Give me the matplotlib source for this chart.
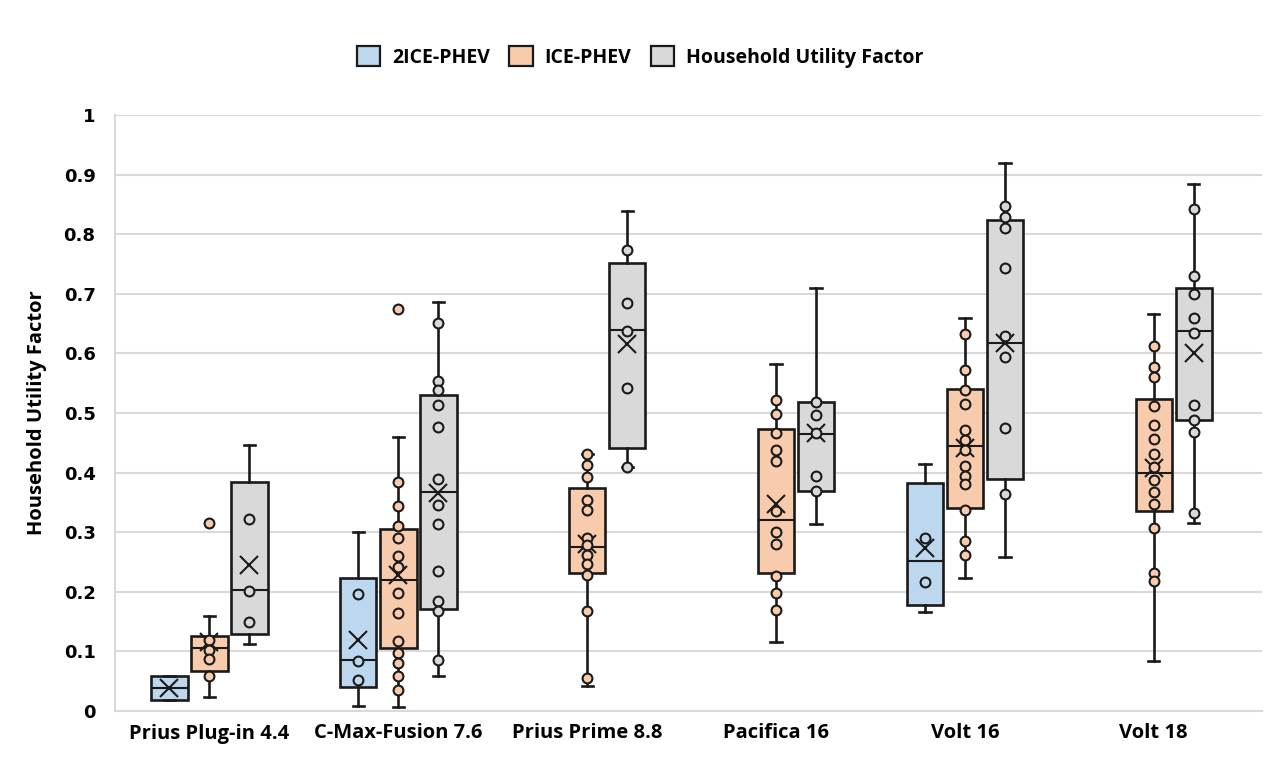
import matplotlib.pyplot as plt
from matplotlib.patches import Patch

# categories and series
categories = ["Prius Plug-in 4.4", "C-Max-Fusion 7.6", "Prius Prime 8.8",
              "Pacifica 16", "Volt 16", "Volt 18"]
series_names = ["2ICE-PHEV", "ICE-PHEV", "Household Utility Factor"]
series_colors = ["#BDD7EE", "#F8CBAD", "#D9D9D9"]

# box stats per category: (whisker low, q1, median, q3, whisker high, mean)
ice2_box = [
    (0.019, 0.019, 0.038, 0.058, 0.058, 0.038),
    (0.008, 0.041, 0.086, 0.223, 0.301, 0.119),
    None,
    None,
    (0.166, 0.178, 0.252, 0.383, 0.414, 0.273),
    None,
]
ice_box = [
    (0.024, 0.067, 0.106, 0.126, 0.160, 0.116),
    (0.007, 0.105, 0.220, 0.306, 0.459, 0.228),
    (0.042, 0.231, 0.276, 0.374, 0.432, 0.281),
    (0.116, 0.231, 0.320, 0.473, 0.582, 0.348),
    (0.223, 0.340, 0.445, 0.540, 0.659, 0.441),
    (0.084, 0.336, 0.399, 0.523, 0.666, 0.408),
]
huf_box = [
    (0.112, 0.130, 0.203, 0.384, 0.447, 0.245),
    (0.058, 0.171, 0.368, 0.531, 0.687, 0.365),
    (0.410, 0.442, 0.640, 0.751, 0.839, 0.616),
    (0.313, 0.369, 0.464, 0.518, 0.710, 0.467),
    (0.258, 0.390, 0.618, 0.824, 0.919, 0.618),
    (0.316, 0.488, 0.638, 0.710, 0.884, 0.601),
]

# outliers per category
ice2_out = [[], [], [], [], [], []]
ice_out = [[0.316], [0.674], [], [], [], []]
huf_out = [[], [], [], [], [], []]

# inner points per category
ice2_points = [
    [],
    [0.196, 0.084, 0.052],
    [],
    [],
    [0.290, 0.217],
    [],
]
ice_points = [
    [0.119, 0.102, 0.087, 0.059],
    [0.385, 0.344, 0.310, 0.291, 0.260, 0.241, 0.198, 0.164, 0.118,
     0.098, 0.080, 0.058, 0.035],
    [0.432, 0.413, 0.393, 0.354, 0.338, 0.290, 0.279, 0.262, 0.247,
     0.228, 0.168, 0.056],
    [0.522, 0.498, 0.467, 0.438, 0.419, 0.336, 0.300, 0.280, 0.227,
     0.198, 0.169],
    [0.632, 0.572, 0.539, 0.515, 0.471, 0.454, 0.438, 0.411, 0.395,
     0.381, 0.338, 0.285, 0.262],
    [0.613, 0.577, 0.560, 0.512, 0.480, 0.456, 0.431, 0.410, 0.388,
     0.367, 0.347, 0.307, 0.232, 0.218],
]
huf_points = [
    [0.322, 0.202, 0.150],
    [0.651, 0.553, 0.539, 0.513, 0.477, 0.389, 0.346, 0.313, 0.235,
     0.185, 0.168, 0.086],
    [0.773, 0.685, 0.638, 0.542, 0.410],
    [0.518, 0.497, 0.466, 0.395, 0.369],
    [0.847, 0.829, 0.810, 0.744, 0.629, 0.594, 0.474, 0.364],
    [0.842, 0.730, 0.699, 0.659, 0.635, 0.513, 0.488, 0.468, 0.332],
]

all_boxes = [ice2_box, ice_box, huf_box]
all_out = [ice2_out, ice_out, huf_out]
all_points = [ice2_points, ice_points, huf_points]

plt.rcParams['font.family'] = ['Open Sans', 'DejaVu Sans']

fig = plt.figure(figsize=(12.65, 7.7), dpi=100)
ax = fig.add_axes([115 / 1265, 1 - 711 / 770, (1262 - 115) / 1265, (711 - 115) / 770])

offset = 0.212
width = 0.193
edge = "#1a1a1a"

for s in range(3):
    stats = []
    pos = []
    for i, b in enumerate(all_boxes[s]):
        if b is None:
            continue
        lo, q1, med, q3, hi, mean = b
        stats.append(dict(whislo=lo, q1=q1, med=med, q3=q3, whishi=hi,
                          mean=mean, fliers=[]))
        pos.append(i + (s - 1) * offset)
    ax.bxp(stats, positions=pos, widths=width, capwidths=0.06,
           patch_artist=True, showmeans=True, showfliers=False,
           boxprops=dict(facecolor=series_colors[s], edgecolor=edge, linewidth=1.9),
           medianprops=dict(color=edge, linewidth=1.5),
           whiskerprops=dict(color=edge, linewidth=1.9),
           capprops=dict(color=edge, linewidth=1.9),
           meanprops=dict(marker='x', markersize=13, markeredgecolor=edge,
                          markeredgewidth=1.5),
           manage_ticks=False, zorder=3)
    for i in range(len(categories)):
        pts = all_points[s][i] + all_out[s][i]
        if not pts:
            continue
        x = i + (s - 1) * offset
        ax.scatter([x] * len(pts), pts, s=50, facecolor=series_colors[s],
                   edgecolor=edge, linewidth=1.5, zorder=4)

ax.set_ylim(0, 1)
ax.set_xlim(-0.5, 5.573)
ax.set_yticks([i / 10 for i in range(11)])
ax.set_yticklabels(["0"] + ["0.%d" % i for i in range(1, 10)] + ["1"],
                   fontsize=13, fontweight='bold', family='DejaVu Sans')
ax.set_xticks(range(len(categories)))
ax.set_xticklabels(categories, fontsize=14.5, fontweight='bold')
ax.tick_params(length=0, pad=9)
ax.tick_params(axis='y', pad=14)
ax.grid(axis='y', color="#D9D9D9", linewidth=1.5, zorder=0)
ax.set_axisbelow(True)
for side in ['top', 'right']:
    ax.spines[side].set_visible(False)
for side in ['left', 'bottom']:
    ax.spines[side].set_color("#D9D9D9")
    ax.spines[side].set_linewidth(1.5)

ax.set_ylabel("Household Utility Factor", fontsize=14.5, fontweight='bold', labelpad=12)

handles = [Patch(facecolor=c, edgecolor=edge, linewidth=1.6) for c in series_colors]
fig.legend(handles, series_names, loc='center', bbox_to_anchor=(640 / 1265, 1 - 57 / 770),
           ncol=3, frameon=False, prop=dict(size=14, weight='bold'),
           handlelength=1.2, handleheight=1.2, columnspacing=1.0, handletextpad=0.6)

fig.savefig("out.png", dpi=100)
